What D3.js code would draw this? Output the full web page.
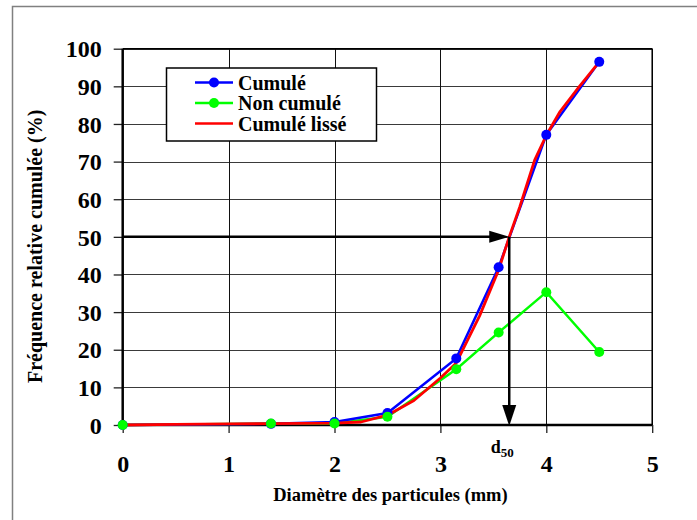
<!DOCTYPE html>
<html>
<head>
<meta charset="utf-8">
<script src="https://cdn.jsdelivr.net/npm/d3@7"></script>
<style>
  html, body { margin: 0; padding: 0; background: #fff; }
  svg { display: block; }
</style>
</head>
<body>
<svg id="chart" width="697" height="520"></svg>
<script>
// Particle diameters (mm) of the sieve classes
const diameters = [0, 1.4, 2, 2.5, 3.15, 3.55, 4, 4.5];
// Cumulative relative frequency (%)
const cumule = [0, 0.3, 0.8, 3.2, 17.7, 41.9, 77.1, 96.5];
// Non-cumulative relative frequency (%)
const nonCumule = [0, 0.4, 0.4, 2.2, 14.8, 24.6, 35.3, 19.4];
// Smoothed cumulative curve
const lisseX = [0, 0.5, 1, 1.4, 2, 2.25, 2.5, 2.75, 3, 3.15, 3.37, 3.55, 3.65, 3.75, 3.89, 4, 4.13, 4.3, 4.5];
const lisseY = [0, 0.15, 0.3, 0.35, 0.5, 0.8, 2.6, 6.5, 12.5, 16.5, 29, 41.2, 50, 58, 70.4, 77, 83.3, 89.5, 96.5];
// Median diameter read on the smoothed curve
const d50 = 3.65;
const d50Level = 50;

const xTicks = [0, 1, 2, 3, 4, 5];
const yTicks = [0, 10, 20, 30, 40, 50, 60, 70, 80, 90, 100];

const legendLabels = ["Cumulé", "Non cumulé", "Cumulé lissé"];
const seriesColors = ["#0000ff", "#00ff00", "#ff0000"];

const FONT = "Liberation Serif";

const svg = d3.select("#chart");

const x = d3.scaleLinear().domain([0, 5]).range([122.7, 652.2]);
const y = d3.scaleLinear().domain([0, 100]).range([425, 48.7]);

function label(sel, size) {
  return sel.style("font-family", FONT).style("font-weight", "bold")
    .style("font-size", size + "px").style("fill", "#000");
}

// Outer frame
svg.append("rect")
  .attr("x", 12.5).attr("y", 6.5).attr("width", 700).attr("height", 530)
  .attr("fill", "none").attr("stroke", "#808080").attr("stroke-width", 1.5);

// Grid
const grid = svg.append("g");
grid.selectAll("line.h").data(yTicks.slice(1)).join("line")
  .attr("x1", x(0)).attr("x2", x(5))
  .attr("y1", d => Math.round(y(d)) + 0.5).attr("y2", d => Math.round(y(d)) + 0.5)
  .attr("stroke", "#3a3a3a").attr("stroke-width", 1.2);
grid.selectAll("line.v").data(xTicks.slice(1)).join("line")
  .attr("y1", y(0)).attr("y2", y(100))
  .attr("x1", d => Math.round(x(d)) + 0.5).attr("x2", d => Math.round(x(d)) + 0.5)
  .attr("stroke", "#111").attr("stroke-width", 1);

// Axes
const xAxis = d3.axisBottom(x).tickValues(xTicks).tickSize(8).tickPadding(22).tickFormat(d3.format("d"));
const yAxis = d3.axisLeft(y).tickValues(yTicks).tickSize(9).tickPadding(12).tickFormat(d3.format("d"));

const gx = svg.append("g").attr("transform", `translate(0,${y(0)})`).call(xAxis);
const gy = svg.append("g").attr("transform", `translate(${x(0)},0)`).call(yAxis);
[gx, gy].forEach(g => {
  g.select(".domain").remove();
  g.selectAll(".tick line").attr("stroke", "#222").attr("stroke-width", 1.3);
  label(g.selectAll(".tick text"), 24);
});
gy.selectAll(".tick text").attr("dy", "0.34em");

// Axis lines
svg.append("line").attr("x1", x(0)).attr("x2", x(0)).attr("y1", y(0) + 1).attr("y2", y(100))
  .attr("stroke", "#000").attr("stroke-width", 2.5);
svg.append("line").attr("x1", x(0)).attr("x2", x(5)).attr("y1", y(0)).attr("y2", y(0))
  .attr("stroke", "#000").attr("stroke-width", 2.5);
svg.append("line").attr("x1", x(0)).attr("x2", x(5)).attr("y1", y(100)).attr("y2", y(100))
  .attr("stroke", "#000").attr("stroke-width", 1.5);
svg.append("line").attr("x1", x(5)).attr("x2", x(5)).attr("y1", y(0)).attr("y2", y(100))
  .attr("stroke", "#000").attr("stroke-width", 1.5);

// Axis titles
label(svg.append("text"), 18.5)
  .attr("x", (x(0) + x(5)) / 2 + 3).attr("y", 501)
  .attr("text-anchor", "middle")
  .text("Diamètre des particules (mm)");

svg.append("clipPath").attr("id", "ytitle-clip")
  .append("rect").attr("x", 0).attr("y", 88).attr("width", 80).attr("height", 400);
label(svg.append("g").attr("clip-path", "url(#ytitle-clip)").append("text"), 20)
  .attr("transform", "translate(42,383) rotate(-90)")
  .attr("text-anchor", "start")
  .text("Fréquence relative cumulée (%)");

// Series
const line = d3.line().x(d => x(d[0])).y(d => y(d[1]));
const cumulePts = diameters.map((d, i) => [d, cumule[i]]);
const nonCumulePts = diameters.map((d, i) => [d, nonCumule[i]]);
const lissePts = lisseX.map((d, i) => [d, lisseY[i]]);

svg.append("path").datum(nonCumulePts).attr("d", line)
  .attr("fill", "none").attr("stroke", seriesColors[1]).attr("stroke-width", 2.5);
svg.append("path").datum(cumulePts).attr("d", line)
  .attr("fill", "none").attr("stroke", seriesColors[0]).attr("stroke-width", 2.5);
svg.append("path").datum(lissePts).attr("d", line)
  .attr("fill", "none").attr("stroke", seriesColors[2]).attr("stroke-width", 2.8)
  .attr("stroke-linejoin", "round");

svg.append("g").selectAll("circle").data(cumulePts).join("circle")
  .attr("cx", d => x(d[0])).attr("cy", d => y(d[1])).attr("r", 5)
  .attr("fill", seriesColors[0]);
svg.append("g").selectAll("circle").data(nonCumulePts).join("circle")
  .attr("cx", d => x(d[0])).attr("cy", d => y(d[1])).attr("r", 5)
  .attr("fill", seriesColors[1]);

// d50 construction arrows
const arrowLen = 20, arrowHalf = 6;
const xd = x(d50), yd = y(d50Level);
svg.append("line").attr("x1", x(0)).attr("x2", xd - arrowLen + 2).attr("y1", yd).attr("y2", yd)
  .attr("stroke", "#000").attr("stroke-width", 2.5);
svg.append("path")
  .attr("d", `M${xd},${yd}L${xd - arrowLen},${yd - arrowHalf}L${xd - arrowLen},${yd + arrowHalf}Z`)
  .attr("fill", "#000");
svg.append("line").attr("x1", xd).attr("x2", xd).attr("y1", yd).attr("y2", y(0) - arrowLen + 2)
  .attr("stroke", "#000").attr("stroke-width", 2.5);
svg.append("path")
  .attr("d", `M${xd},${y(0) + 1}L${xd - arrowHalf - 1},${y(0) - arrowLen}L${xd + arrowHalf + 1},${y(0) - arrowLen}Z`)
  .attr("fill", "#000");

const d50Label = label(svg.append("text"), 18).attr("x", xd - 7).attr("y", 453)
  .attr("text-anchor", "middle");
d50Label.append("tspan").text("d");
d50Label.append("tspan").style("font-size", "13px").attr("dy", 4).text("50");

// Legend
const legend = svg.append("g");
legend.append("rect").attr("x", 166.5).attr("y", 68).attr("width", 210).attr("height", 73)
  .attr("fill", "#fff").attr("stroke", "#000").attr("stroke-width", 1.5);
const rowsY = [82.5, 103, 123.5];
legendLabels.forEach((lab, i) => {
  legend.append("line").attr("x1", 195).attr("x2", 233).attr("y1", rowsY[i]).attr("y2", rowsY[i])
    .attr("stroke", seriesColors[i]).attr("stroke-width", 2.5);
  if (i < 2) {
    legend.append("circle").attr("cx", 214).attr("cy", rowsY[i]).attr("r", 5)
      .attr("fill", seriesColors[i]);
  }
  label(legend.append("text"), 20).attr("x", 238).attr("y", rowsY[i]).attr("dy", "0.35em")
    .text(lab);
});
</script>
</body>
</html>
